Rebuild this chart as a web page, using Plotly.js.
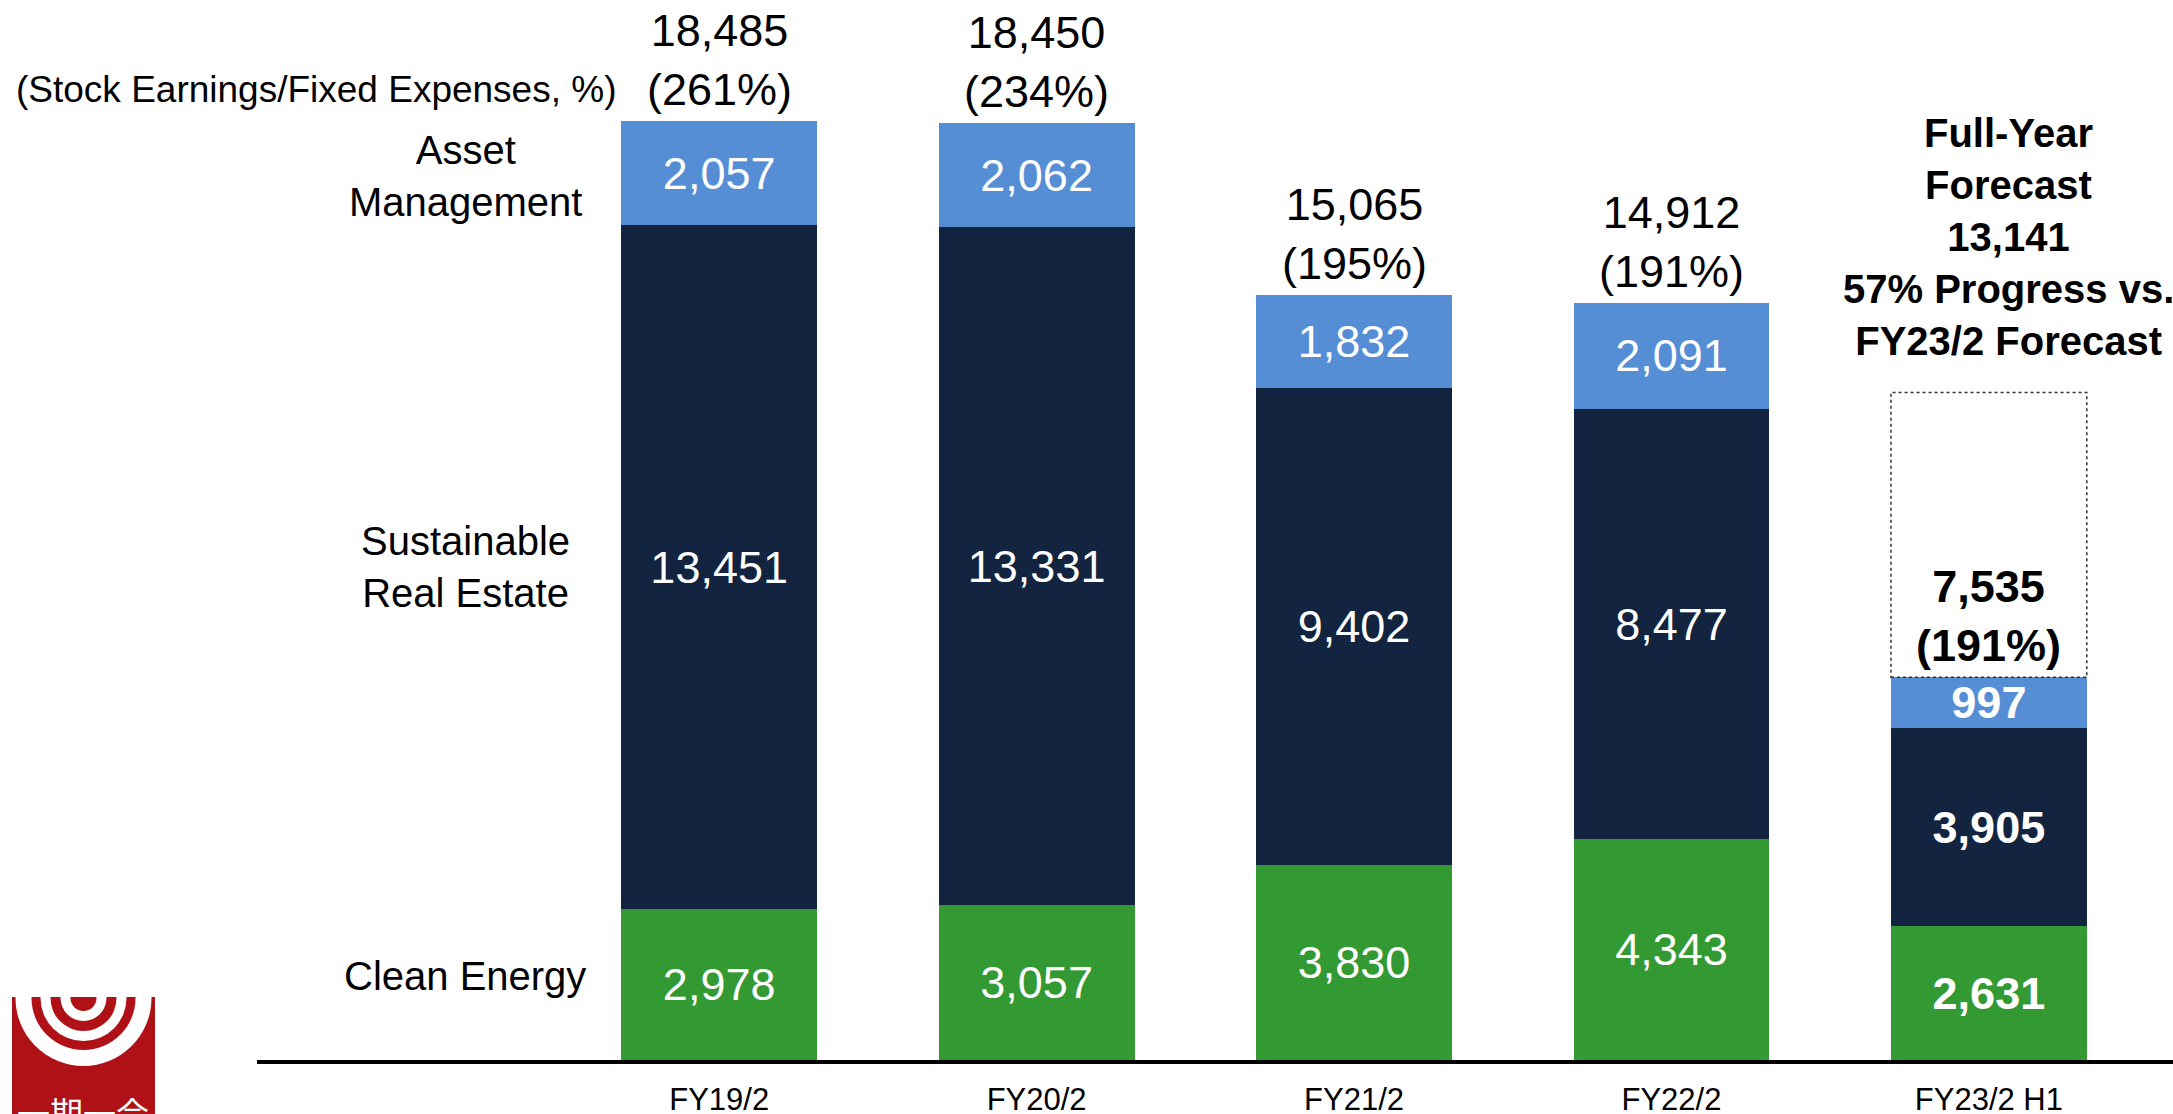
<!DOCTYPE html>
<html>
<head>
<meta charset="utf-8">
<script src="https://cdn.plot.ly/plotly-3.0.1.min.js"></script>
<style>
  html, body { margin: 0; padding: 0; background: #ffffff; }
  #chart { width: 2173px; height: 1114px; }
</style>
</head>
<body>
<div id="chart"></div>
<script>
// ---- data ----
const categories = ['FY19/2', 'FY20/2', 'FY21/2', 'FY22/2', 'FY23/2 H1'];
const cleanEnergy = [2978, 3057, 3830, 4343, 2631];
const realEstate = [13451, 13331, 9402, 8477, 3905];
const assetMgmt = [2057, 2062, 1832, 2091, 997];
const totals = [18485, 18450, 15065, 14912, 7535];
const coveragePct = [261, 234, 195, 191, 191];
const forecastTotal = 13141;
const forecastProgressPct = 57;
const forecastLabel = 'FY23/2 Forecast';
const seriesNames = ['Clean Energy', 'Sustainable Real Estate', 'Asset Management'];
const seriesLabels = ['Clean Energy', 'Sustainable<br>Real Estate', 'Asset<br>Management'];
const noteLabel = '(Stock Earnings/Fixed Expenses, %)';
const logoText = '一期一会';

// ---- style / layout constants ----
const W = 2173, H = 1114;
const ML = 257, MR = 0, MT = 0, MB = 54;
const FONT = 'Liberation Sans, Arial, Helvetica, sans-serif';
const COLORS = ['#339933', '#12243F', '#558ED5'];
const BAR_W = 0.617;
const H1_INDEX = categories.length - 1;

const fmt = v => v.toLocaleString('en-US');
const stackTop = categories.map((c, i) => cleanEnergy[i] + realEstate[i] + assetMgmt[i]);

function segText(arr) {
  return arr.map((v, i) => i === H1_INDEX ? '<b>' + fmt(v) + '</b>' : fmt(v));
}

const seriesData = [cleanEnergy, realEstate, assetMgmt];
const traces = seriesData.map((arr, s) => ({
  type: 'bar',
  name: seriesNames[s],
  x: categories,
  y: arr,
  width: BAR_W,
  marker: { color: COLORS[s], line: { width: 0 } },
  text: segText(arr),
  textposition: 'inside',
  insidetextanchor: 'middle',
  textangle: 0,
  constraintext: 'none',
  textfont: { color: '#ffffff', size: 45, family: FONT },
  hoverinfo: 'skip',
  cliponaxis: false
}));

// pixel -> paper helpers for the logo
const plotW = W - ML - MR, plotH = H - MT - MB;
const px = x => (x - ML) / plotW;
const py = y => (H - MB - y) / plotH;

const annotations = [];

// totals above each bar
categories.forEach((c, i) => {
  const bold = i === H1_INDEX;
  const t = fmt(totals[i]) + '<br>(' + coveragePct[i] + '%)';
  annotations.push({
    x: i, y: stackTop[i], xref: 'x', yref: 'y',
    text: bold ? '<b>' + t.replace('<br>', '</b><br><b>') + '</b>' : t,
    showarrow: false, yanchor: 'bottom', xanchor: 'center', yshift: 4,
    font: { size: 45, color: '#000000', family: FONT }
  });
});

// note label
annotations.push({
  x: -BAR_W / 2, y: stackTop[0], xref: 'x', yref: 'y',
  text: noteLabel, showarrow: false, xanchor: 'right', yanchor: 'bottom',
  xshift: -3, yshift: 9,
  font: { size: 37, color: '#000000', family: FONT }
});

// series labels at left of first bar, aligned to the first bar's segment middles
let cum = 0;
seriesData.forEach((arr, s) => {
  const mid = cum + arr[0] / 2;
  cum += arr[0];
  annotations.push({
    x: -0.8, y: mid, xref: 'x', yref: 'y',
    text: seriesLabels[s], showarrow: false, xanchor: 'center', yanchor: 'middle',
    yshift: s === 0 ? 8 : (s === 2 ? -3 : 0),
    font: { size: 40, color: '#000000', family: FONT }
  });
});

// forecast text
annotations.push({
  x: H1_INDEX, y: forecastTotal, xref: 'x', yref: 'y',
  text: '<b>' + forecastProgressPct + '% Progress vs.</b><br><b>' + forecastLabel + '</b>',
  showarrow: false, xanchor: 'center', yanchor: 'bottom', xshift: 20, yshift: 27,
  font: { size: 40, color: '#000000', family: FONT }
});
annotations.push({
  x: H1_INDEX, y: forecastTotal, xref: 'x', yref: 'y',
  text: '<b>Full-Year</b><br><b>Forecast</b><br><b>' + fmt(forecastTotal) + '</b>',
  showarrow: false, xanchor: 'center', yanchor: 'bottom', xshift: 20, yshift: 131,
  font: { size: 40, color: '#000000', family: FONT }
});

// logo text
annotations.push({
  x: px(83), y: py(1112), xref: 'paper', yref: 'paper',
  text: logoText, showarrow: false, xanchor: 'center', yanchor: 'middle',
  font: { size: 33, color: '#ffffff', family: 'Noto Sans CJK JP, sans-serif' }
});

const shapes = [];
// forecast dotted box
shapes.push({
  type: 'rect', xref: 'x', yref: 'y',
  x0: H1_INDEX - BAR_W / 2, x1: H1_INDEX + BAR_W / 2,
  y0: stackTop[H1_INDEX], y1: forecastTotal,
  line: { color: '#333333', width: 1.5, dash: 'dot' },
  fillcolor: 'rgba(0,0,0,0)', layer: 'above'
});

// logo: red square with concentric rings
const RED = '#B01116';
shapes.push({ type: 'rect', xref: 'paper', yref: 'paper',
  x0: px(12), x1: px(155), y0: py(1120), y1: py(997),
  fillcolor: RED, line: { width: 0 }, layer: 'above' });
const cx = 83.5, cy = 998;
const rings = [[68, '#ffffff'], [52, RED], [43, '#ffffff'], [33, RED], [23, '#ffffff'], [13, RED]];
rings.forEach(([r, col]) => {
  shapes.push({ type: 'circle', xref: 'paper', yref: 'paper',
    x0: px(cx - r), x1: px(cx + r), y0: py(cy + r), y1: py(cy - r),
    fillcolor: col, line: { width: 0 }, layer: 'above' });
});
shapes.push({ type: 'rect', xref: 'paper', yref: 'paper',
  x0: px(0), x1: px(170), y0: py(997), y1: py(900),
  fillcolor: '#ffffff', line: { width: 0 }, layer: 'above' });

const layout = {
  width: W, height: H,
  margin: { l: ML, r: MR, t: MT, b: MB, pad: 0 },
  paper_bgcolor: '#ffffff', plot_bgcolor: '#ffffff',
  barmode: 'stack',
  showlegend: false,
  font: { family: FONT, color: '#000000' },
  xaxis: {
    type: 'category',
    range: [-1.456, 4.58],
    showline: true, linecolor: '#000000', linewidth: 4,
    ticks: '', showgrid: false, zeroline: false,
    tickfont: { size: 31, color: '#000000', family: FONT },
    ticklabelstandoff: 9,
    fixedrange: true
  },
  yaxis: {
    range: [0, 20866],
    showline: false, showgrid: false, zeroline: false,
    showticklabels: false, ticks: '', fixedrange: true
  },
  annotations: annotations,
  shapes: shapes,
  hovermode: false
};

Plotly.newPlot('chart', traces, layout, { displayModeBar: false, staticPlot: true });
</script>
</body>
</html>
